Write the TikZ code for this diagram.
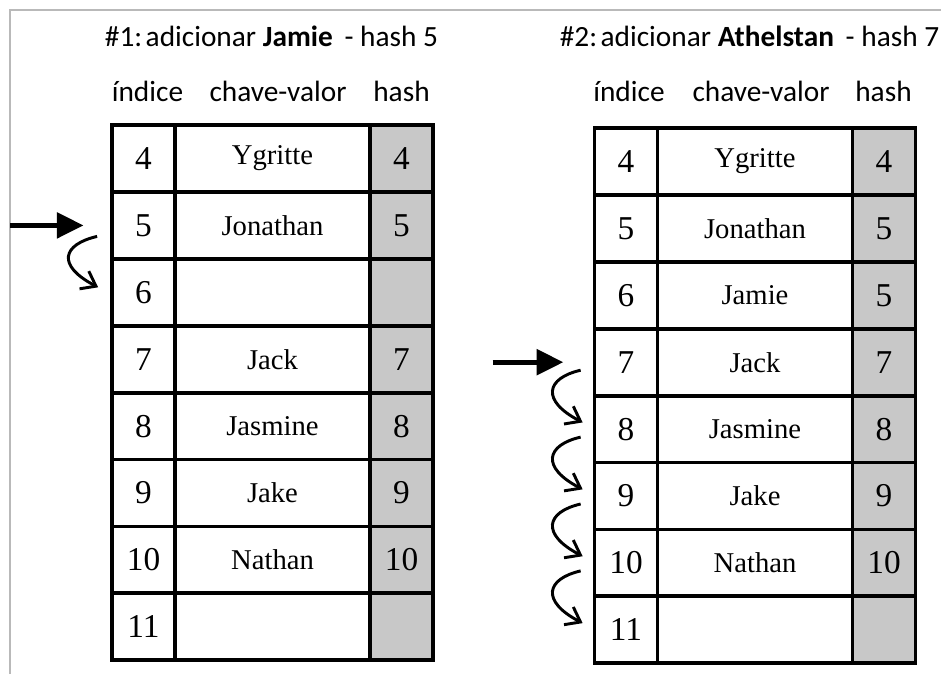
\documentclass[tikz,border=0pt]{standalone}
\usepackage{fontspec}
\setmainfont{Liberation Serif}
\newfontfamily\rotulo{Carlito}
\usetikzlibrary{arrows.meta}
\definecolor{hashgray}{RGB}{200, 200, 200}
\definecolor{framegray}{RGB}{185, 185, 185}

\begin{document}
\begin{tikzpicture}[x=0.75pt, y=-0.75pt,
                cell/.style={draw, line width=2.8pt, minimum height=50.2pt, inner sep=0pt},
                idx/.style={cell, minimum width=47.25pt, font=\fontsize{25}{27}\selectfont},
                val/.style={cell, minimum width=146.25pt, font=\fontsize{21.5}{23}\selectfont},
                hsh/.style={cell, minimum width=47.25pt, fill=hashgray, font=\fontsize{25}{27}\selectfont},
                titulo/.style={anchor=base, font=\rotulo\fontsize{22}{24}\selectfont},
                push/.style={line width=3.5pt, -{Triangle[length=20pt, width=19pt]}},
                probe/.style={line width=2.2pt, -{Straight Barb[length=10pt, width=15pt]}}
            ]

            \useasboundingbox (0,0) rectangle (941,674);
            \draw[framegray, line width=1.1pt] (10,674) -- (10,10) -- (941,10);

            \node[titulo] (t1) at (271.5,47) {\#1:\hspace{0.12em}adicionar \textbf{Jamie}\hspace{0.4em}- hash 5};
            \node[titulo] (t2) at (749.5,47) {\#2:\hspace{0.12em}adicionar \textbf{Athelstan}\hspace{0.4em}- hash 7};

            \node[titulo] (ai) at (147.5,101.5) {índice};
            \node[titulo] (ac) at (278,101.5) {chave-valor};
            \node[titulo] (ah) at (401.5,101.5) {hash};
            \node[titulo] (bi) at (629,101.5) {índice};
            \node[titulo] (bc) at (761,101.5) {chave-valor};
            \node[titulo] (bh) at (883.5,101.5) {hash};

            \foreach \i/\nome/\h [count=\k from 0] in {4/Ygritte/4, 5/Jonathan/5, 6//, 7/Jack/7,
                    8/Jasmine/8, 9/Jake/9, 10/Nathan/10, 11//} {
                \node[idx] (a\i) at (143.5, 158.5+66.9*\k) {\i};
                \node[val] (av\i) at (272.5, 158.5+66.9*\k) {\nome};
                \node[hsh] (ah\i) at (401.5, 158.5+66.9*\k) {\h};
            }

            \foreach \i/\nome/\h [count=\k from 0] in {4/Ygritte/4, 5/Jonathan/5, 6/Jamie/5, 7/Jack/7,
                    8/Jasmine/8, 9/Jake/9, 10/Nathan/10, 11//} {
                \node[idx] (b\i) at (626, 161.5+66.9*\k) {\i};
                \node[val] (bv\i) at (755, 161.5+66.9*\k) {\nome};
                \node[hsh] (bh\i) at (884, 161.5+66.9*\k) {\h};
            }

            \draw[push] ([xshift=-75pt]a5.west) -- ([xshift=-20pt]a5.west);
            \draw[probe] ([xshift=-9.75pt, yshift=-8.25pt]a5.west)
                .. controls +(-26pt,-6pt) and +(-31.5pt,16.5pt) .. ([xshift=-9pt, yshift=3.75pt]a6.west);

            \draw[push] ([xshift=-75pt]b7.west) -- ([xshift=-22pt]b7.west);
            \foreach \p/\q in {7/8, 8/9, 9/10, 10/11}
                \draw[probe] ([xshift=-9pt, yshift=-6pt]b\p.west)
                    .. controls +(-26pt,-6pt) and +(-31.5pt,16.5pt) .. ([xshift=-7.5pt, yshift=5pt]b\q.west);

            \end{tikzpicture}
\end{document}
